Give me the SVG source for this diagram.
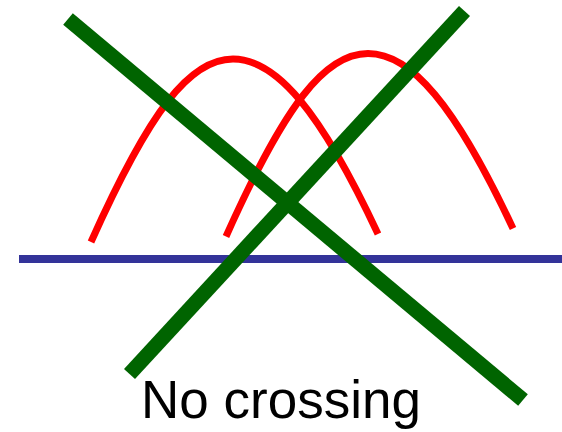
<svg xmlns="http://www.w3.org/2000/svg" width="562" height="432" viewBox="0 0 562 432">
<style>
.axis{stroke:#333399;stroke-width:8;fill:none}
.curve{stroke:#ff0000;stroke-width:7;fill:none}
.cross{stroke:#006400;stroke-width:15;fill:none}
.label{font-family:"Liberation Sans",Arial,sans-serif;font-size:53px;fill:#000}
</style>
<rect width="562" height="432" fill="#fff"/>
<g id="axis"><line class="axis" x1="19" y1="259" x2="562" y2="259"/></g>
<g id="curves">
<path id="curve1" class="curve" d="M91,242 C150,110 190,59 233,59 C276,59 320,110 378,234"/>
<path id="curve2" class="curve" d="M226,236.5 C285,104.5 325,53.5 368,53.5 C411,53.5 455,104.5 513,228.5"/>
</g>
<g id="cross">
<line class="cross" x1="68" y1="19" x2="523" y2="400"/>
<line class="cross" x1="464.5" y1="11" x2="129.5" y2="374"/>
</g>
<text class="label" x="281" y="418" text-anchor="middle">No crossing</text>
</svg>
